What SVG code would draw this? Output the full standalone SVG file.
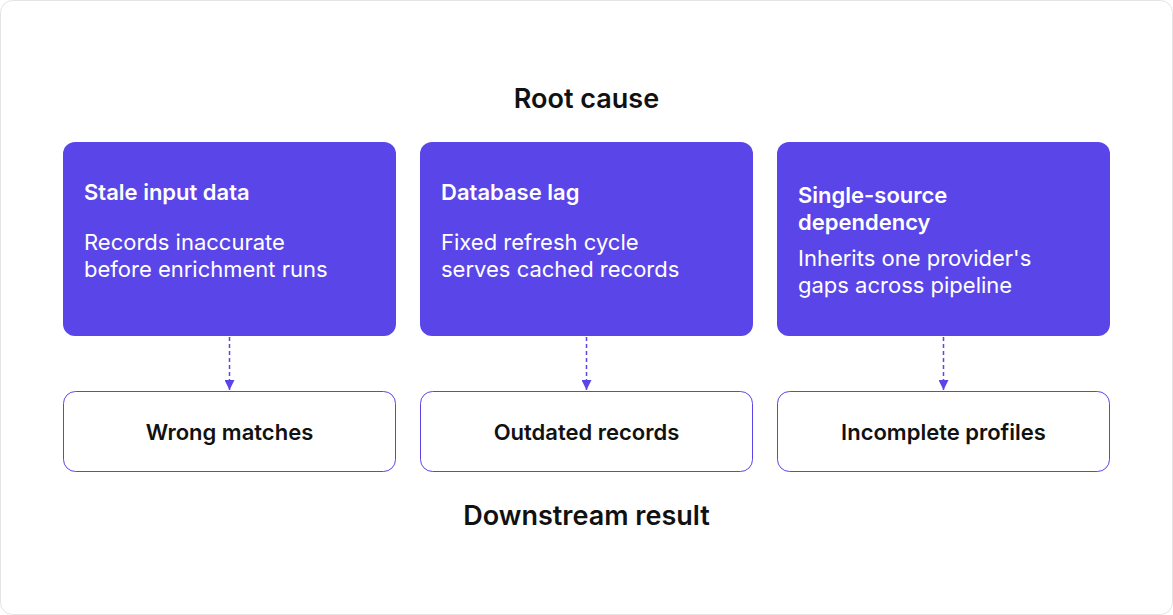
<svg xmlns="http://www.w3.org/2000/svg" width="1173" height="615" viewBox="0 0 1173 615">
<defs>
<marker id="ah" viewBox="0 0 10 10" refX="10" refY="5" markerWidth="10" markerHeight="10" markerUnits="userSpaceOnUse" orient="auto"><path d="M0,0 L10,5 L0,10 z" fill="#5a46e8"/></marker>
<style>
text{font-family:Inter,"Noto Sans",sans-serif}
.t{font-size:27px;font-weight:600;fill:#111;text-anchor:middle}
.top{fill:#5a46e8}
.h{font-size:22px;font-weight:600;fill:#fff}
.b{font-size:22px;font-weight:400;fill:#fff}
.bot{fill:#fff;stroke:#5a46e8;stroke-width:1}
.l{font-size:22px;font-weight:600;fill:#111;text-anchor:middle}
.c{stroke:#5a46e8;stroke-width:1.5;stroke-dasharray:4 3;fill:none}
</style>
</defs>
<rect x="0.5" y="0.5" width="1172" height="614" rx="12" fill="#fff" stroke="#e4e4e4"/>
<text class="t" x="586.5" y="108">Root cause</text>
<text class="t" x="586.5" y="525">Downstream result</text>
<g id="n1"><rect class="top" x="63" y="142" width="333" height="194" rx="12"/><text class="h" x="84" y="200">Stale input data</text><text class="b" x="84" y="250">Records inaccurate</text><text class="b" x="84" y="277">before enrichment runs</text></g>
<g id="n2"><rect class="top" x="420" y="142" width="333" height="194" rx="12"/><text class="h" x="441" y="200">Database lag</text><text class="b" x="441" y="250">Fixed refresh cycle</text><text class="b" x="441" y="277">serves cached records</text></g>
<g id="n3"><rect class="top" x="777" y="142" width="333" height="194" rx="12"/><text class="h" x="798" y="203">Single-source</text><text class="h" x="798" y="230">dependency</text><text class="b" x="798" y="266">Inherits one provider's</text><text class="b" x="798" y="293">gaps across pipeline</text></g>
<g id="n4"><rect class="bot" x="63.5" y="391.5" width="332" height="80" rx="12"/><text class="l" x="229.5" y="440">Wrong matches</text></g>
<g id="n5"><rect class="bot" x="420.5" y="391.5" width="332" height="80" rx="12"/><text class="l" x="586.5" y="440">Outdated records</text></g>
<g id="n6"><rect class="bot" x="777.5" y="391.5" width="332" height="80" rx="12"/><text class="l" x="943.5" y="440">Incomplete profiles</text></g>
<g id="connectors">
<line class="c" x1="229.5" y1="337" x2="229.5" y2="390" marker-end="url(#ah)"/>
<line class="c" x1="586.5" y1="337" x2="586.5" y2="390" marker-end="url(#ah)"/>
<line class="c" x1="943.5" y1="337" x2="943.5" y2="390" marker-end="url(#ah)"/>
</g>
</svg>
